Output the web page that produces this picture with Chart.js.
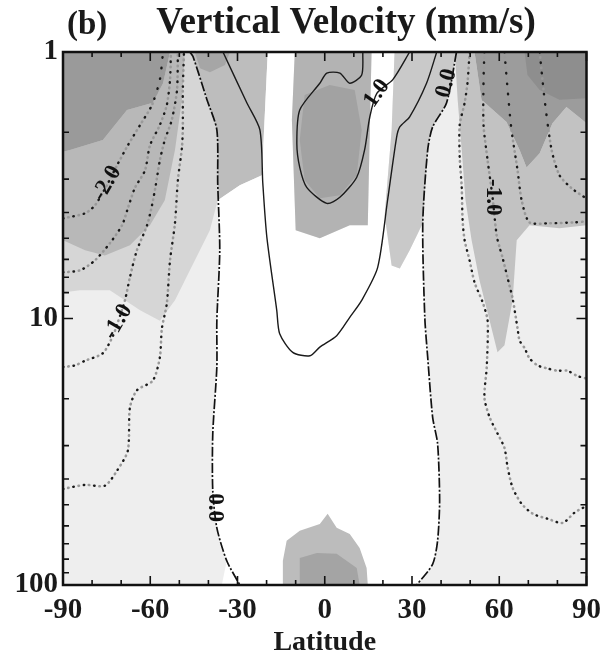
<!DOCTYPE html>
<html>
<head>
<meta charset="utf-8">
<script src="https://cdn.jsdelivr.net/npm/chart.js@4.4.1/dist/chart.umd.min.js"></script>
<style>
  html, body { margin: 0; padding: 0; background: #fff; }
  canvas { display: block; }
</style>
</head>
<body>
<canvas id="velocityChart" width="609" height="662"></canvas>
<script>
// axis tick labels
const latTicks = [-90, -60, -30, 0, 30, 60, 90];
const pressureTicks = [1, 10, 100];

// contour lines, each point is [latitude, pressure]
const zeroSouth = [[-46.4,1.0],[-45.3,1.04],[-40.5,1.51],[-37.1,1.96],[-36.8,3.11],[-36.1,5.55],[-37.1,10.2],[-37.1,15.2],[-38.5,27.0],[-38.5,44.3],[-37.1,61.0],[-33.7,81.1],[-29.2,100]];
const zeroNorth = [[45.3,1.0],[41.9,1.55],[37.1,1.91],[35.4,2.33],[33.7,4.39],[34.4,9.90],[35.4,14.0],[37.1,23.5],[38.8,29.5],[39.5,48.3],[38.8,68.2],[37.1,83.5],[31.6,100]];
const posHalf = [[-35.0,1.0],[-26.8,1.55],[-22.3,1.96],[-21.3,3.11],[-19.9,4.96],[-16.5,9.32],[-15.5,11.4],[-11.0,13.4],[-5.1,13.8],[-1.7,12.8],[4.1,11.6],[8.6,9.90],[12.7,8.55],[18.2,6.43],[21.6,3.60],[24.7,2.09],[25.8,1.91],[29.2,1.75],[35.0,1.31],[38.5,1.0]];
const posOne = [[13.1,1.0],[12.7,1.22],[8.6,1.31],[5.2,1.20],[0.7,1.20],[-1.7,1.31],[-8.6,1.65],[-9.6,2.20],[-8.6,2.71],[-6.2,3.22],[0.7,3.70],[5.2,3.51],[11.0,2.95],[13.7,2.33],[15.5,1.75],[17.9,1.43],[23.4,1.27],[29.2,1.0]];
const negTwoSouth = [[-90,4.21],[-82.4,4.03],[-79.0,3.76],[-74.9,3.16],[-71.4,2.66],[-67.7,2.24],[-63.5,1.88],[-59.4,1.58],[-56.7,1.27],[-55.6,1.0]];
const negOneHalfSouth = [[-90,6.71],[-84.2,6.60],[-79.0,6.05],[-73.9,5.22],[-69.7,4.47],[-67.7,3.86],[-65.3,3.24],[-61.8,2.78],[-60.1,2.24],[-56.7,1.88],[-54.3,1.58],[-53.2,1.27],[-52.9,1.0]];
const negOneSouth = [[-90,15.2],[-85.9,15.0],[-82.4,14.4],[-76.3,13.5],[-72.8,11.6],[-71.1,10.3],[-68.7,8.55],[-67.0,7.01],[-64.6,5.55],[-61.1,4.47],[-59.4,3.76],[-58.1,3.16],[-56.7,2.55],[-55.0,2.14],[-52.6,1.80],[-50.8,1.39],[-50.5,1.0]];
const negHalfSouth = [[-90,43.6],[-82.4,42.1],[-75.6,42.4],[-71.4,37.2],[-67.7,31.3],[-67.0,21.6],[-64.6,18.6],[-59.1,17.1],[-56.7,14.0],[-56.0,10.9],[-54.3,8.78],[-53.2,6.05],[-51.5,4.39],[-50.5,3.03],[-49.1,2.28],[-48.8,1.93],[-48.8,1.39],[-48.4,1.0]];
const negHalfNorth = [[49.8,1.0],[49.1,1.30],[48.1,1.55],[46.4,1.88],[46.4,2.48],[47.1,3.22],[47.4,4.28],[48.1,5.09],[49.8,6.05],[51.5,7.32],[54.3,8.70],[56.0,10.2],[55.7,15.2],[54.9,19.8],[56.7,23.5],[59.4,27.0],[61.8,30.6],[62.9,36.3],[64.6,43.2],[67.7,49.6],[71.5,54.0],[76.6,56.4],[81.8,58.5],[85.9,53.5],[90,50.5]];
const negOneNorth = [[54.9,1.0],[54.6,1.27],[54.6,1.88],[56.0,2.55],[57.7,3.51],[59.1,4.88],[60.1,5.40],[61.1,5.89],[62.9,7.07],[64.6,8.41],[66.3,10.9],[67.0,12.1],[68.7,12.9],[70.4,14.1],[73.2,15.0],[76.6,15.4],[80.0,15.7],[83.5,15.7],[86.6,16.4],[90,16.8]];
const negOneHalfNorth = [[61.8,1.0],[62.9,1.39],[64.2,1.96],[66.3,2.78],[67.7,3.60],[70.4,4.36],[77.3,4.39],[85.9,4.36],[90,4.32]];
const negTwoNorth = [[73.9,1.0],[75.6,1.51],[78.0,2.33],[80.7,2.90],[84.8,3.24],[90,3.55]];

// shaded areas, [latitude, pressure]
const shadeLightSouth = [[-90,1.0],[-46.4,1.0],[-45.3,1.04],[-40.5,1.51],[-37.1,1.96],[-36.8,3.11],[-36.8,3.60],[-39.5,4.67],[-46.4,6.60],[-51.5,8.55],[-56.7,10.2],[-63.5,9.32],[-73.9,7.84],[-84.2,7.84],[-90,7.98]];
const shadeMidSouth = [[-90,2.37],[-87.6,2.33],[-76.3,2.14],[-68.0,1.65],[-59.1,1.55],[-55.6,1.31],[-53.2,1.0],[-48.1,1.0],[-49.1,1.51],[-51.5,2.33],[-55.0,3.60],[-60.1,4.47],[-67.0,5.31],[-75.6,5.80],[-82.4,5.55],[-90,5.09]];
const shadeDarkSouth = [[-90,1.0],[-53.2,1.0],[-55.6,1.31],[-59.1,1.55],[-68.0,1.65],[-76.3,2.14],[-87.6,2.33],[-90,2.37]];
const shadeTopSouth = [[-46.4,1.0],[-19.6,1.0],[-21.6,2.90],[-29.2,3.16],[-36.8,3.60],[-36.8,3.11],[-37.1,1.96],[-40.5,1.51],[-45.3,1.04]];
const shadeTopSouthCore = [[-44.7,1.0],[-32.6,1.0],[-34.3,1.12],[-39.5,1.19],[-42.9,1.15]];
const shadeWhite = [[-35.4,100],[-33.7,81.1],[-37.1,61.0],[-38.5,44.3],[-38.5,27.0],[-37.1,15.2],[-37.1,10.2],[-36.1,5.55],[-36.8,3.60],[-29.2,3.16],[-21.6,2.90],[-19.6,1.0],[-10.3,1.0],[-11.3,1.80],[-10.0,4.67],[-1.7,5.0],[8.6,4.47],[14.8,4.47],[16.1,1.0],[24.0,1.0],[23.0,1.96],[20.6,4.10],[23.0,6.32],[25.8,6.49],[29.2,5.55],[33.7,4.39],[34.4,9.90],[35.4,14.0],[37.1,23.5],[38.8,29.5],[39.5,48.3],[38.8,68.2],[37.1,83.5],[31.6,100]];
const shadeTopNorth = [[24.0,1.0],[45.3,1.0],[41.9,1.55],[37.1,1.91],[35.4,2.33],[33.7,4.39],[29.2,5.55],[25.8,6.49],[23.0,6.32],[20.6,4.10],[23.0,1.96]];
const shadeCentre = [[-10.3,1.0],[16.1,1.0],[15.5,1.96],[14.8,4.47],[8.6,4.47],[-1.7,5.0],[-10.0,4.67],[-11.3,1.80]];
const shadeCentreCore = [[-6.9,1.45],[1.7,1.33],[10.3,1.39],[12.7,1.96],[11.0,2.90],[5.2,3.45],[-1.7,3.54],[-6.9,3.03],[-8.6,2.14]];
const shadeMidNorth = [[44.7,1.0],[51.5,1.0],[53.9,1.51],[62.5,1.83],[67.0,2.33],[69.4,2.71],[73.9,2.40],[78.3,1.85],[83.1,1.61],[87.6,1.76],[90,1.85],[90,4.47],[80.7,4.59],[70.4,4.47],[66.0,5.09],[64.6,8.55],[61.8,12.6],[59.4,13.4],[56.7,10.2],[53.2,7.19],[50.5,5.09],[48.4,3.60],[47.1,2.33],[45.7,1.51]];
const shadeDarkNorth = [[51.5,1.0],[90,1.0],[90,1.85],[87.6,1.76],[83.1,1.61],[78.3,1.85],[73.9,2.40],[69.4,2.71],[67.0,2.33],[62.5,1.83],[53.9,1.51]];
const shadeDarkNorthCore = [[68.7,1.0],[90,1.0],[90,1.49],[80.7,1.51],[73.9,1.39],[69.7,1.22]];
const shadeBlob = [[-14.4,100],[-14.4,81.1],[-13.1,68.2],[-8.6,62.6],[-1.7,59.0],[1.0,54.0],[4.1,61.0],[8.6,64.3],[12.0,72.6],[14.4,86.4],[14.8,100]];
const shadeBlobCore = [[-8.6,100],[-8.6,79.2],[-2.7,75.8],[4.1,76.4],[11.0,86.4],[12.0,100]];

// contour labels
const contourLabels = [
  { text: '-2.0', lat: -74.9, p: 3.11, angle: -60 },
  { text: '-1.0', lat: -71.1, p: 10.3, angle: -60 },
  { text: '0.0', lat: -37.8, p: 51.3, angle: 90 },
  { text: '1.0', lat: 17.9, p: 1.43, angle: -55 },
  { text: '0.0', lat: 41.9, p: 1.31, angle: -75 },
  { text: '-1.0', lat: 57.7, p: 3.51, angle: 90 }
];

const SERIF = '"Liberation Serif", "Times New Roman", serif';
const toXY = pts => pts.map(([x, y]) => ({ x: x, y: y }));

let order = 100;
function shade(pts, color) {
  return {
    data: toXY(pts), order: order--,
    borderWidth: 0, borderColor: 'transparent',
    backgroundColor: color, fill: 'shape', tension: 0, pointRadius: 0
  };
}
function solid(pts) {
  return { data: toXY(pts), order: 1, borderColor: '#1a1a1a', borderWidth: 1.4, fill: false, tension: 0.25, pointRadius: 0 };
}
function dashDot(pts) {
  return { data: toXY(pts), order: 1, borderColor: '#111', borderWidth: 1.7, borderDash: [10, 2, 2, 2], fill: false, tension: 0.25, pointRadius: 0 };
}
function dotted(pts) {
  // alternating black and grey dots
  return [
    { data: toXY(pts), order: 1, borderColor: '#9a9a9a', borderWidth: 2.6, borderDash: [0.5, 10], borderDashOffset: 5.25, borderCapStyle: 'round', fill: false, tension: 0.25, pointRadius: 0 },
    { data: toXY(pts), order: 1, borderColor: '#1a1a1a', borderWidth: 2.4, borderDash: [0.5, 10], borderCapStyle: 'round', fill: false, tension: 0.25, pointRadius: 0 }
  ];
}

const datasets = [
  shade(shadeLightSouth, '#d6d6d6'),
  shade(shadeMidSouth, '#b8b8b8'),
  shade(shadeDarkSouth, '#9a9a9a'),
  shade(shadeTopSouth, '#bdbdbd'),
  shade(shadeTopSouthCore, '#a6a6a6'),
  shade(shadeWhite, '#ffffff'),
  shade(shadeTopNorth, '#c9c9c9'),
  shade(shadeCentre, '#b3b3b3'),
  shade(shadeCentreCore, '#a2a2a2'),
  shade(shadeMidNorth, '#c2c2c2'),
  shade(shadeDarkNorth, '#9c9c9c'),
  shade(shadeDarkNorthCore, '#8e8e8e'),
  shade(shadeBlob, '#bcbcbc'),
  shade(shadeBlobCore, '#a4a4a4'),
  dashDot(zeroSouth),
  dashDot(zeroNorth),
  solid(posHalf),
  solid(posOne),
  ...dotted(negTwoSouth),
  ...dotted(negOneHalfSouth),
  ...dotted(negOneSouth),
  ...dotted(negHalfSouth),
  ...dotted(negHalfNorth),
  ...dotted(negOneNorth),
  ...dotted(negOneHalfNorth),
  ...dotted(negTwoNorth)
];

// background, contour labels, inward ticks, frame, title
const chartDecor = {
  id: 'chartDecor',
  beforeDatasetsDraw(chart) {
    const { ctx, chartArea: a } = chart;
    ctx.save();
    ctx.fillStyle = '#eeeeee';
    ctx.fillRect(a.left, a.top, a.right - a.left, a.bottom - a.top);
    ctx.restore();
  },
  afterDatasetsDraw(chart) {
    const { ctx, scales: { x, y } } = chart;
    ctx.save();
    ctx.font = 'bold 23px ' + SERIF;
    ctx.fillStyle = '#111';
    ctx.textAlign = 'center';
    ctx.textBaseline = 'middle';
    contourLabels.forEach(l => {
      ctx.save();
      ctx.translate(x.getPixelForValue(l.lat), y.getPixelForValue(l.p));
      ctx.rotate(l.angle * Math.PI / 180);
      ctx.fillText(l.text, 0, 0);
      ctx.restore();
    });
    ctx.restore();
  },
  afterDraw(chart) {
    const { ctx, chartArea: a, scales: { x, y } } = chart;
    ctx.save();
    ctx.strokeStyle = '#111';
    ctx.lineWidth = 1.6;
    ctx.beginPath();
    for (let lat = -90; lat <= 90; lat += 10) {
      const px = x.getPixelForValue(lat);
      const len = lat % 30 === 0 ? 9 : 5;
      ctx.moveTo(px, a.bottom); ctx.lineTo(px, a.bottom - len);
      ctx.moveTo(px, a.top); ctx.lineTo(px, a.top + len);
    }
    for (let dec = 1; dec <= 100; dec *= 10) {
      for (let m = 1; m <= 9; m++) {
        const v = m * dec;
        if (v > 100) break;
        const py = y.getPixelForValue(v);
        const len = m === 1 ? 10 : 6;
        ctx.moveTo(a.left, py); ctx.lineTo(a.left + len, py);
        ctx.moveTo(a.right, py); ctx.lineTo(a.right - len, py);
      }
    }
    ctx.stroke();
    ctx.lineWidth = 2.5;
    ctx.strokeRect(a.left, a.top, a.right - a.left, a.bottom - a.top);

    ctx.fillStyle = '#1a1a1a';
    ctx.textBaseline = 'middle';
    ctx.font = 'bold 33px ' + SERIF;
    ctx.textAlign = 'left';
    ctx.fillText('(b)', 67, 25);
    ctx.font = 'bold 37px ' + SERIF;
    ctx.textAlign = 'center';
    ctx.fillText('Vertical Velocity (mm/s)', 346, 23);
    ctx.restore();
  }
};

new Chart(document.getElementById('velocityChart'), {
  type: 'line',
  data: { datasets: datasets },
  plugins: [chartDecor],
  options: {
    responsive: false,
    animation: false,
    devicePixelRatio: 1,
    layout: { padding: { top: 52, right: 22, left: 0, bottom: 0 } },
    plugins: { legend: { display: false }, tooltip: { enabled: false } },
    scales: {
      x: {
        type: 'linear', min: -90, max: 90,
        afterBuildTicks: s => { s.ticks = latTicks.map(v => ({ value: v })); },
        afterFit: s => { s.height = 77; },
        ticks: { color: '#1a1a1a', padding: 8, font: { family: SERIF, size: 29, weight: 'bold' }, callback: v => String(v) },
        grid: { display: false, drawTicks: false },
        border: { display: false },
        title: { display: true, text: 'Latitude', color: '#1a1a1a', padding: { top: 0, bottom: 2 }, font: { family: SERIF, size: 28, weight: 'bold' } }
      },
      y: {
        type: 'logarithmic', min: 1, max: 100, reverse: true,
        afterBuildTicks: s => { s.ticks = pressureTicks.map(v => ({ value: v })); },
        afterFit: s => { s.width = 63; },
        ticks: { color: '#1a1a1a', padding: 5, font: { family: SERIF, size: 29, weight: 'bold' }, callback: v => String(v) },
        grid: { display: false, drawTicks: false },
        border: { display: false }
      }
    }
  }
});
</script>
</body>
</html>
